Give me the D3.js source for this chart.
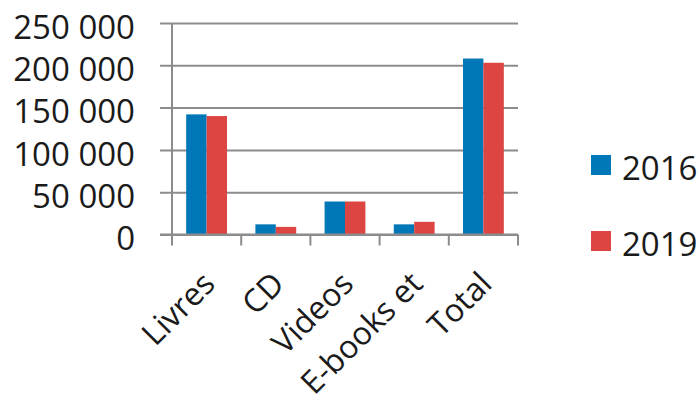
<!DOCTYPE html>
<html>
<head>
<meta charset="utf-8">
<script src="https://cdn.jsdelivr.net/npm/d3@7"></script>
<style>
  body { margin: 0; background: #fff; }
  svg text { font-family: "Open Sans", sans-serif; fill: #1a1a1a; }
</style>
</head>
<body>
<div id="chart"></div>
<script>
// data
var categories = ["Livres", "CD", "Videos", "E-books et", "Total"];
var series = ["2016", "2019"];
var values2016 = [142000, 12000, 39000, 12000, 208000];
var values2019 = [140000, 9000, 39000, 15000, 203000];
var yTicks = [0, 50000, 100000, 150000, 200000, 250000];
var colors = ["#0078b8", "#dc4542"];

var W = 699, H = 396;
var gridColor = "#8c8c8c";

var svg = d3.select("#chart").append("svg")
    .attr("width", W)
    .attr("height", H);

// scales
var x = d3.scaleBand().domain(categories).range([172, 518])
    .paddingInner(0.41).paddingOuter(0.205);
var xs = d3.scaleBand().domain(series).range([0, x.bandwidth()]);
var y = d3.scaleLinear().domain([0, 250000]).range([234.5, 23]);

var fmt = v => d3.format(",")(v).replace(/,/g, " ");

// gridlines + y labels
svg.append("g")
    .attr("transform", "translate(172,0)")
    .call(d3.axisLeft(y).tickValues(yTicks).tickSize(-346).tickFormat(fmt).tickPadding(37))
    .call(g => g.select(".domain").remove())
    .call(g => g.selectAll(".tick line")
        .attr("x1", -12)
        .attr("stroke", gridColor)
        .attr("stroke-width", 2))
    .call(g => g.selectAll(".tick text")
        .attr("font-size", 33)
        .attr("dy", "0.46em")
        .style("font-family", "'Open Sans', sans-serif")
        .attr("fill", "#1a1a1a"));

// y axis line
svg.append("line")
    .attr("x1", 172).attr("x2", 172)
    .attr("y1", y(250000)).attr("y2", y(0))
    .attr("stroke", gridColor).attr("stroke-width", 2);

// bars
var rows = categories.map((c, i) => ({cat: c, vals: [values2016[i], values2019[i]]}));
var groups = svg.selectAll("g.grp")
    .data(rows).enter().append("g")
        .attr("class", "grp")
        .attr("transform", d => `translate(${x(d.cat)},0)`);

groups.selectAll("rect")
    .data(d => d.vals.map((v, j) => ({s: series[j], v: v, j: j})))
    .enter().append("rect")
        .attr("x", d => xs(d.s))
        .attr("width", xs.bandwidth())
        .attr("y", d => y(d.v))
        .attr("height", d => y(0) - y(d.v))
        .attr("fill", d => colors[d.j]);

// x axis baseline with category ticks
var xAxis = svg.append("g");
xAxis.append("line")
    .attr("x1", 160).attr("x2", 518)
    .attr("y1", y(0)).attr("y2", y(0))
    .attr("stroke", gridColor).attr("stroke-width", 2);

var bounds = d3.range(categories.length + 1).map(i => 172 + i * x.step());
xAxis.selectAll("line.xt")
    .data(bounds).enter().append("line")
        .attr("class", "xt")
        .attr("x1", d => d).attr("x2", d => d)
        .attr("y1", y(0)).attr("y2", y(0) + 11)
        .attr("stroke", gridColor).attr("stroke-width", 2);

// rotated category labels
xAxis.selectAll("text")
    .data(categories).enter().append("text")
        .attr("text-anchor", "end")
        .attr("font-size", 32)
        .attr("transform", d => `translate(${x(d) + x.bandwidth() / 2 - 6},${y(0) + 35}) rotate(-45)`)
        .attr("dy", "0.72em")
        .text(d => d);

// legend
var legend = svg.selectAll("g.leg")
    .data(series).enter().append("g")
        .attr("class", "leg")
        .attr("transform", (d, i) => `translate(591,${155 + i * 76})`);

legend.append("rect")
    .attr("width", 20).attr("height", 20)
    .attr("fill", (d, i) => colors[i]);

legend.append("text")
    .attr("x", 31)
    .attr("y", 13)
    .attr("dy", "0.36em")
    .attr("font-size", 33)
    .text(d => d);
</script>
</body>
</html>
